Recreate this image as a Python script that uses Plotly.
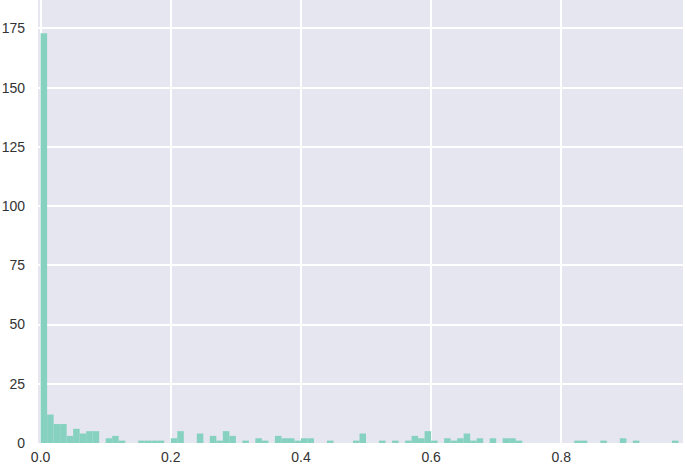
import plotly.graph_objects as go

bin_width = 0.01
counts = [
    173, 12, 8, 8, 3, 6, 4, 5, 5, 0,
    2, 3, 1, 0, 0, 1, 1, 1, 1, 0,
    2, 5, 0, 0, 4, 0, 3, 1, 5, 3,
    0, 1, 0, 2, 1, 0, 3, 2, 2, 1,
    2, 2, 0, 0, 1, 0, 0, 0, 1, 4,
    0, 0, 1, 0, 1, 0, 1, 3, 2, 5,
    1, 0, 2, 1, 2, 4, 1, 2, 0, 2,
    0, 2, 2, 1, 0, 0, 0, 0, 0, 0,
    0, 0, 1, 1, 0, 0, 1, 0, 0, 2,
    0, 1, 0, 0, 0, 0, 0, 1,
]
bin_left = [i * bin_width for i in range(len(counts))]
x_ticks = [0.0, 0.2, 0.4, 0.6, 0.8]
x_tick_labels = ["0.0", "0.2", "0.4", "0.6", "0.8"]
y_ticks = [0, 25, 50, 75, 100, 125, 150, 175]

fig = go.Figure(go.Bar(
    x=bin_left, y=counts, width=bin_width, offset=0,
    marker=dict(color="#86d1bf", line=dict(width=0)),
))

fig.update_layout(
    width=685, height=466,
    margin=dict(l=38, r=2, t=0, b=23, autoexpand=False),
    plot_bgcolor="#e5e6ef", paper_bgcolor="white",
    font=dict(family="Liberation Sans, Arial, sans-serif", size=14, color="#333333"),
    showlegend=False,
    xaxis=dict(range=[-0.004, 0.987], tickvals=x_ticks, ticktext=x_tick_labels,
               showgrid=True, gridcolor="white", gridwidth=1.6, zeroline=False,
               showline=False, ticks="", ticklabelstandoff=4, automargin=False),
    yaxis=dict(range=[0, 187], tickvals=y_ticks, showgrid=True, gridcolor="white",
               gridwidth=1.6, zeroline=False, showline=False, ticks="",
               ticklabelstandoff=12, automargin=False),
)

fig.write_html("out.html", config={"displayModeBar": False},
               post_script="document.body.style.margin='0';")
